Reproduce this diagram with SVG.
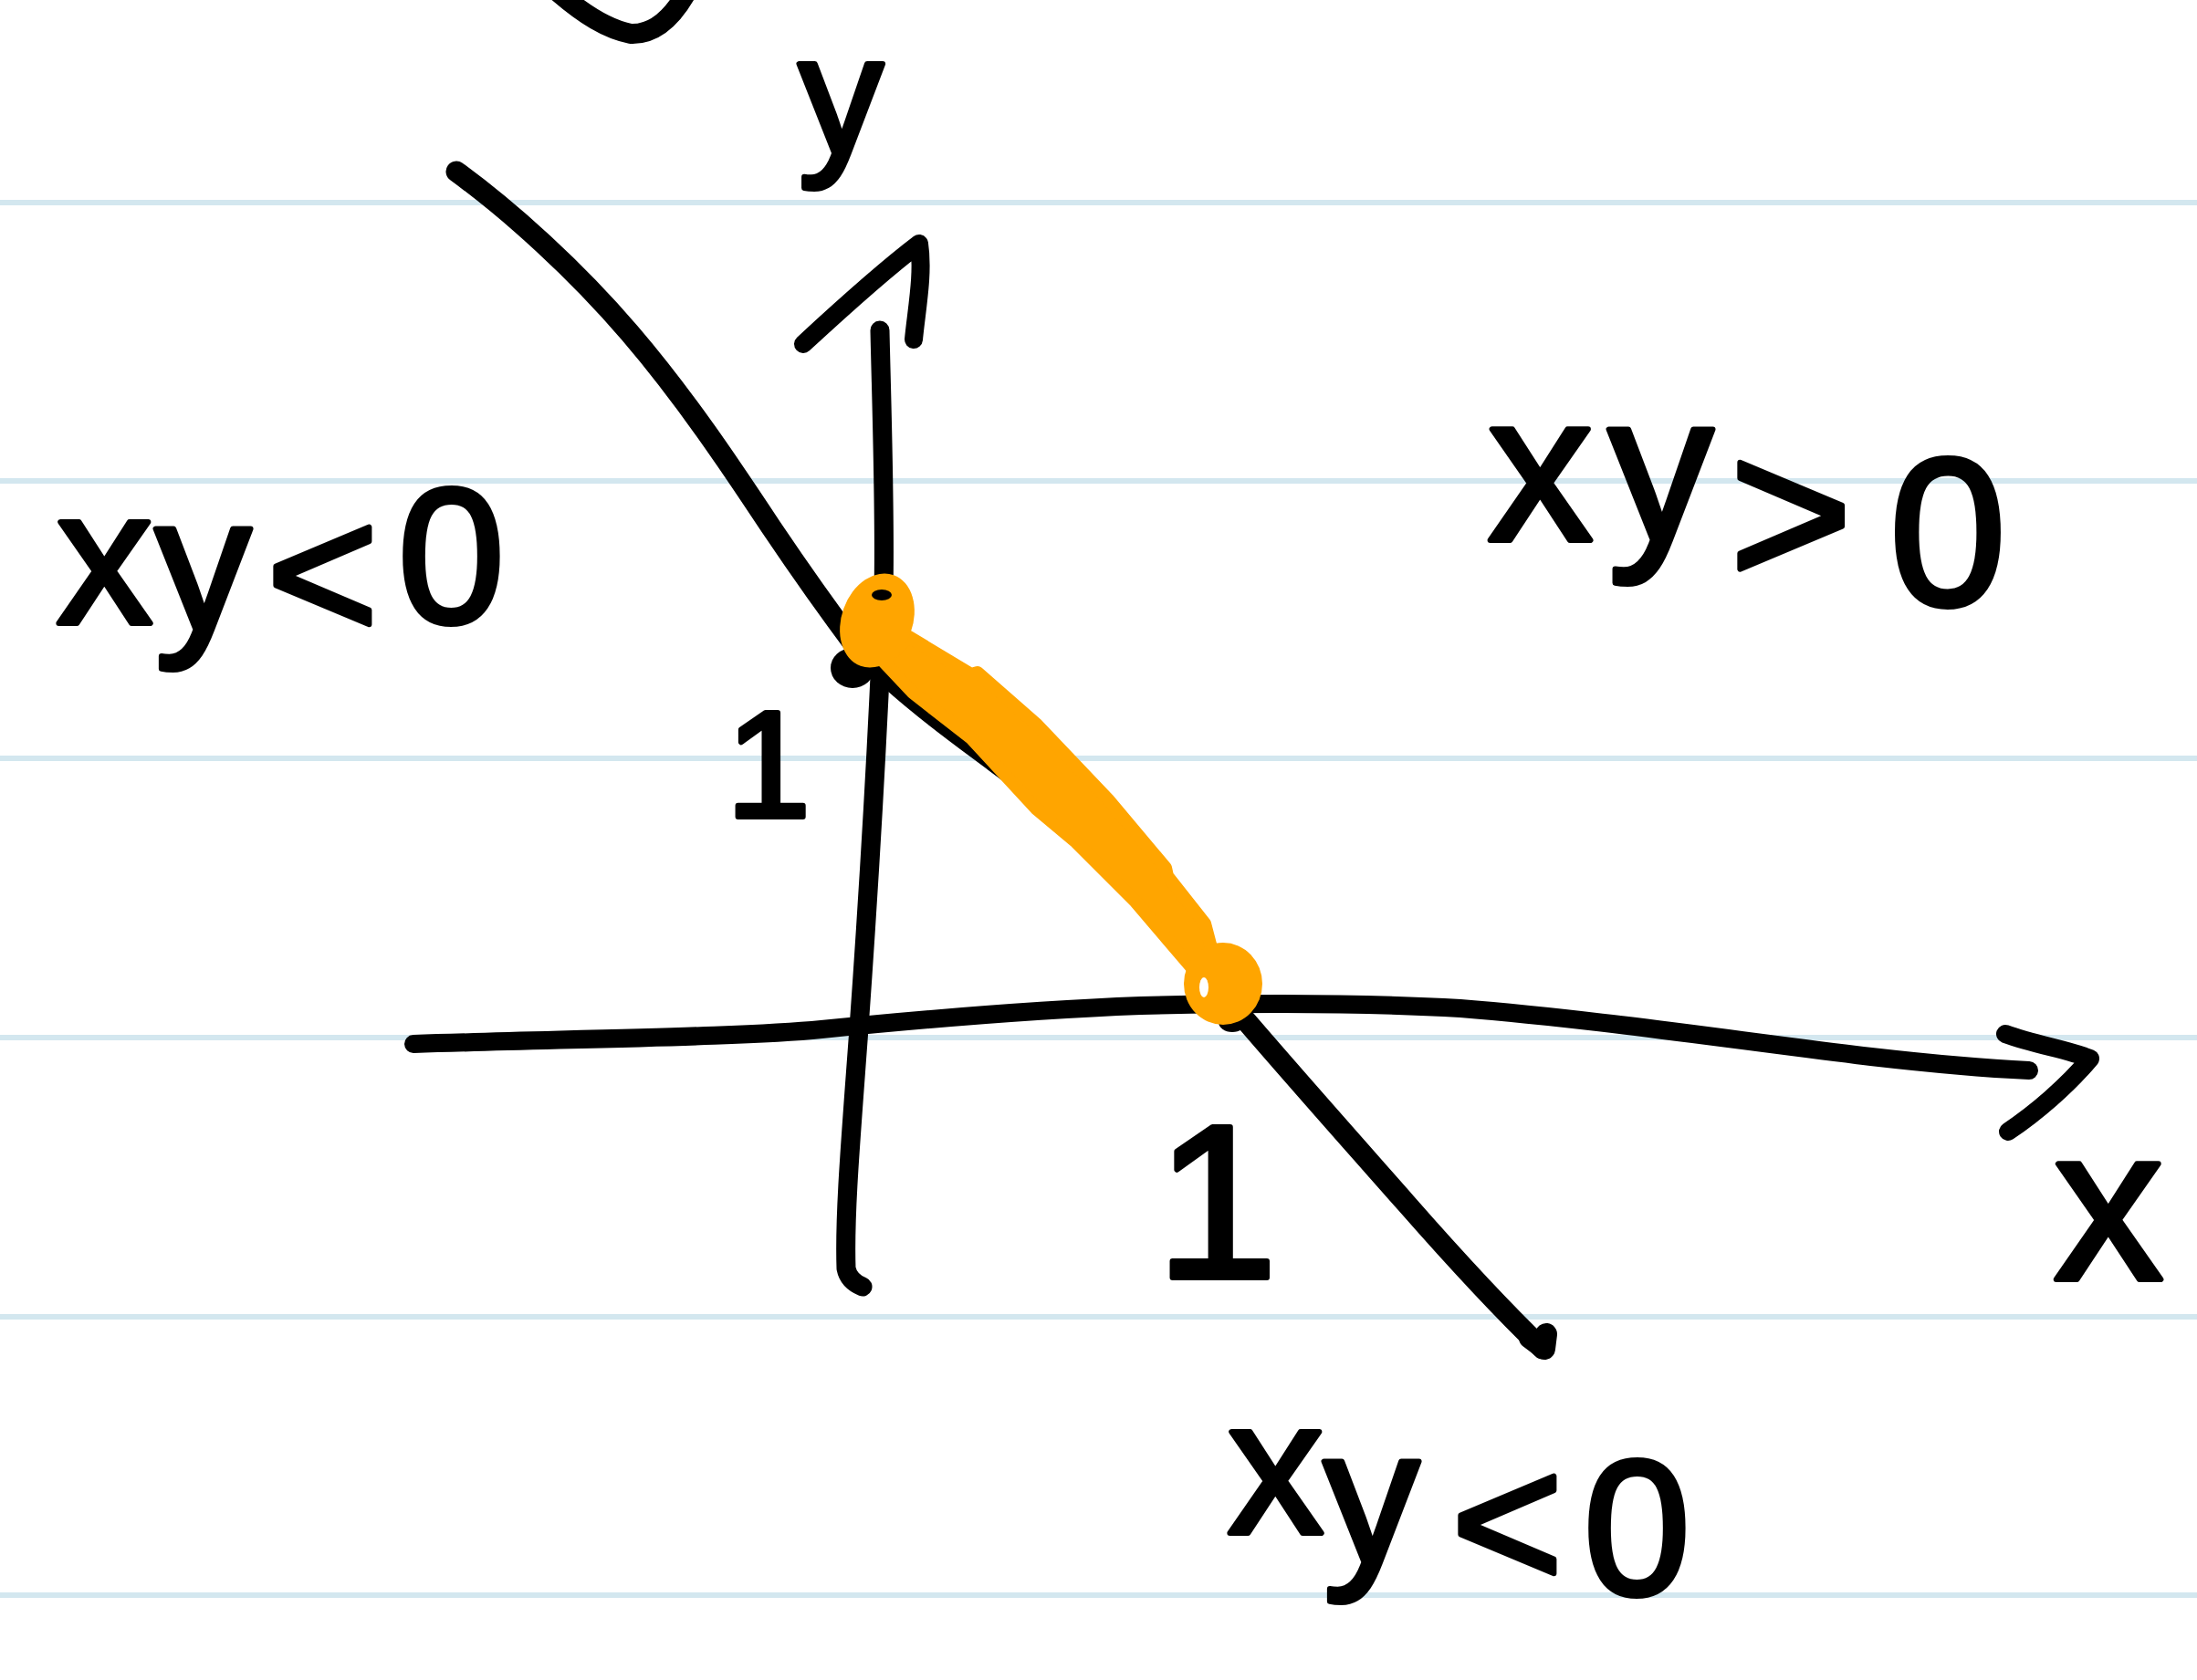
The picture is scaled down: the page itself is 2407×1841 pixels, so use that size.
<svg xmlns="http://www.w3.org/2000/svg" width="2407" height="1841" viewBox="0 0 2407 1841">
<style>
.rule{stroke:#d3e7ef;stroke-width:6;fill:none}
.ink{stroke:#000;fill:none;stroke-linecap:round;stroke-linejoin:round}
.lbl{font-family:"Liberation Sans",Arial,sans-serif;fill:#000;stroke:#000;stroke-width:6;stroke-linejoin:round}
.hl{fill:#ffa500;stroke:#ffa500;stroke-width:14;stroke-linejoin:round}
</style>
<rect x="0" y="0" width="2407" height="1841" fill="#ffffff"/>
<g id="ruled-lines">
<line class="rule" x1="0" y1="222" x2="2407" y2="222"/>
<line class="rule" x1="0" y1="527" x2="2407" y2="527"/>
<line class="rule" x1="0" y1="831" x2="2407" y2="831"/>
<line class="rule" x1="0" y1="1137" x2="2407" y2="1137"/>
<line class="rule" x1="0" y1="1443" x2="2407" y2="1443"/>
<line class="rule" x1="0" y1="1748" x2="2407" y2="1748"/>
</g>
<g id="top-fragment">
<path class="ink" stroke-width="22" d="M612,-8 C640,16 665,32 691,37 C715,38 735,22 752,-8"/>
</g>
<g id="connectors">
<g id="y-axis">
<path class="ink" stroke-width="21" d="M964,362 C966,450 970,560 968,650 C962,800 950,1000 941,1127 C932,1250 925,1330 927,1390 C929,1400 935,1406 945,1410"/>
<path class="ink" stroke-width="20" d="M880,377 C920,340 970,295 1007,267 C1012,300 1004,340 1001,372"/>
</g>
<g id="x-axis">
<path class="ink" stroke-width="20" d="M453,1144 C650,1138 820,1136 900,1128 C1000,1118 1120,1107 1250,1102 C1380,1099 1500,1099 1600,1105 C1750,1117 1900,1140 2050,1158 C2120,1166 2180,1171 2223,1173"/>
<path class="ink" stroke-width="20" d="M2197,1133 C2230,1145 2265,1150 2290,1160 C2265,1190 2230,1220 2200,1240"/>
</g>
<g id="curve">
<path class="ink" stroke-width="23" d="M500,188 C560,232 630,295 690,365 C750,435 800,510 845,578 C880,630 910,672 940,712 C1000,770 1050,805 1090,835 C1150,880 1220,925 1280,990 C1310,1025 1335,1065 1345,1095 C1400,1160 1480,1250 1540,1318 C1590,1375 1640,1430 1690,1478"/>
<ellipse cx="934" cy="732" rx="24" ry="22" fill="#000"/>
<ellipse cx="1350" cy="1120" rx="15" ry="11" fill="#000"/>
<path class="ink" stroke-width="24" d="M1676,1466 L1692,1478 L1694,1462"/>
</g>
</g>
<g id="highlight">
<path class="hl" d="M968,725 L996,698 L1064,739 L1071,737 L1136,794 L1214,876 L1277,951 L1279,960 L1320,1012 L1330,1050 L1307,1062 L1243,987 L1179,923 L1136,887 L1064,809 L1000,759 Z"/>
<ellipse cx="961" cy="680" rx="39" ry="53" transform="rotate(20 961 680)" fill="#ffa500"/>
<ellipse cx="966" cy="652" rx="11" ry="6" fill="#000"/>
<ellipse cx="1340" cy="1078" rx="43" ry="45" fill="#ffa500"/>
<ellipse cx="1319" cy="1082" rx="5" ry="11" fill="#ffffff"/>
</g>
<g id="labels">
<text class="lbl" x="875" y="168" font-size="185">y</text>
<text class="lbl" x="2250" y="1402" font-size="240">x</text>
<text class="lbl" x="62 170 292 436" y="683 690 700 682" font-size="210">xy&lt;0</text>
<text class="lbl" x="1630 1762 1895 2070" y="592 592 641 663" font-size="230">xy&gt;0</text>
<text class="lbl" x="1345 1450 1590 1735" y="1680 1712 1740 1747" font-size="210">xy&lt;0</text>
<text class="lbl" x="842" y="895" font-size="165" text-anchor="middle">1</text>
<text class="lbl" x="1333" y="1400" font-size="240" text-anchor="middle">1</text>
</g>
</svg>
